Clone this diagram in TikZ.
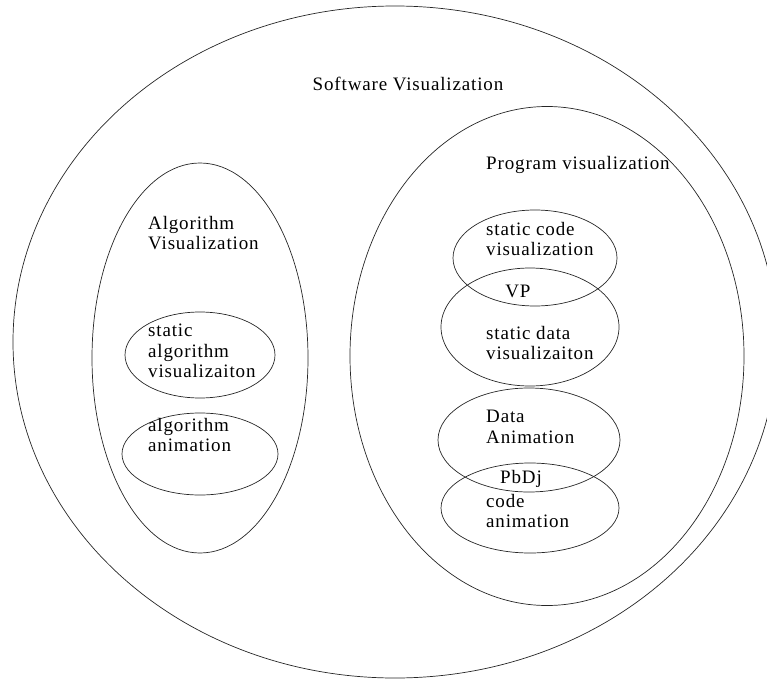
\documentclass[tikz,border=0pt]{standalone}
\usepackage{fontspec}
\setmainfont{Liberation Serif}[LetterSpace=4.5]
\usetikzlibrary{shapes.geometric}
\begin{document}
\begin{tikzpicture}[x=1pt,y=-1pt,
  blob/.style={ellipse,draw=black!85,line width=0.7pt,inner sep=0pt},
  lbl/.style={align=left,anchor=north west,inner sep=0pt,font=\fontsize{19}{20.5}\selectfont}]
\useasboundingbox (0,0) rectangle (767,679);
\clip (0,0) rectangle (767,679);
\node[blob,minimum width=764pt,minimum height=672pt] (sv) at (395,342) {};
\node[blob,minimum width=394pt,minimum height=499pt] (pv) at (547,356) {};
\node[blob,minimum width=216pt,minimum height=390pt] (av) at (200,358) {};
\node[blob,minimum width=150pt,minimum height=86pt] (sa) at (200,355) {};
\node[blob,minimum width=156pt,minimum height=82pt] (aa) at (200,454) {};
\node[blob,minimum width=164pt,minimum height=96pt] (sc) at (535,258) {};
\node[blob,minimum width=178pt,minimum height=118pt] (sd) at (530,327) {};
\node[blob,minimum width=182pt,minimum height=104pt] (da) at (529,440) {};
\node[blob,minimum width=178pt,minimum height=90pt] (ca) at (530,508) {};
\node[lbl,anchor=base] (svt) at (408,91) {Software Visualization};
\node[lbl,anchor=base west] (pvt) at (486,169) {Program visualization};
\node[lbl] (avt) at (148,216) {Algorithm\\Visualization};
\node[lbl] (sat) at (148,324) {static\\algorithm\\visualizaiton};
\node[lbl] (aat) at (148,418) {algorithm\\animation};
\node[lbl] (sct) at (486,222) {static code\\visualization};
\node[lbl,anchor=base] (vp) at (518,297) {VP};
\node[lbl] (sdt) at (486,326) {static data\\visualizaiton};
\node[lbl] (dat) at (486,410) {Data\\Animation};
\node[lbl,anchor=base] (pbdj) at (521,483) {PbDj};
\node[lbl] (cat) at (486,494) {code\\animation};
\end{tikzpicture}
\end{document}
